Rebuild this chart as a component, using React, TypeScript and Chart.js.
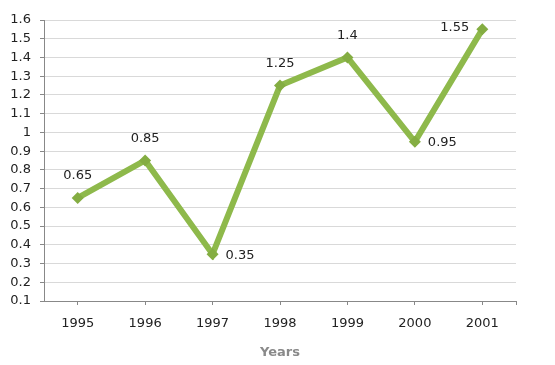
import React, { useEffect, useRef } from "react";
import { Chart, registerables } from "chart.js";

Chart.register(...registerables);

const years = ["1995", "1996", "1997", "1998", "1999", "2000", "2001"];
const values = [0.65, 0.85, 0.35, 1.25, 1.4, 0.95, 1.55];
const labelPlacement = ["top", "top", "right", "top", "top", "right", "left"];
const yMin = 0.1;
const yMax = 1.6;
const yStep = 0.1;
const xTitle = "Years";

const FONT = "'DejaVu Sans', Verdana, sans-serif";

const valueLabels = {
  id: "valueLabels",
  afterDatasetsDraw(chart: any) {
    const ctx = chart.ctx;
    const meta = chart.getDatasetMeta(0);
    ctx.save();
    ctx.font = `13px ${FONT}`;
    ctx.fillStyle = "#222";
    meta.data.forEach((pt: any, i: number) => {
      const txt = String(values[i]);
      const pos = labelPlacement[i];
      ctx.textBaseline = "middle";
      if (pos === "top") {
        ctx.textAlign = "center";
        ctx.fillText(txt, pt.x, pt.y - 22);
      } else if (pos === "right") {
        ctx.textAlign = "left";
        ctx.fillText(txt, pt.x + 13, pt.y + 1);
      } else {
        ctx.textAlign = "right";
        ctx.fillText(txt, pt.x - 13, pt.y - 2);
      }
    });
    ctx.restore();
  },
};

const edgeTick = {
  id: "edgeTick",
  afterDraw(chart: any) {
    const ctx = chart.ctx;
    const a = chart.chartArea;
    ctx.save();
    ctx.strokeStyle = "#888";
    ctx.lineWidth = 1;
    ctx.beginPath();
    ctx.moveTo(Math.round(a.right) + 0.5, a.bottom);
    ctx.lineTo(Math.round(a.right) + 0.5, a.bottom + 4);
    ctx.stroke();
    ctx.restore();
  },
};

export default function App() {
  const ref = useRef<HTMLCanvasElement | null>(null);
  useEffect(() => {
    document.body.style.margin = "0";
    const chart = new Chart(ref.current as HTMLCanvasElement, {
      type: "line",
      data: {
        labels: years,
        datasets: [
          {
            data: values,
            borderColor: "#8eb94b",
            backgroundColor: "#84ad42",
            borderWidth: 6,
            pointStyle: "rectRot",
            pointRadius: 6,
            pointBorderWidth: 0,
            pointBackgroundColor: "#84ad42",
            tension: 0,
          },
        ],
      },
      options: {
        animation: false,
        responsive: false,
        layout: { padding: { top: 20, right: 39, left: 0, bottom: 0 } },
        plugins: { legend: { display: false }, tooltip: { enabled: false } },
        scales: {
          x: {
            offset: true,
            grid: {
              offset: false,
              drawOnChartArea: false,
              drawTicks: true,
              tickLength: 4,
              tickColor: "#888",
            },
            border: { color: "#888", width: 1 },
            ticks: { font: { family: FONT, size: 13 }, color: "#222", padding: 11 },
            title: {
              display: true,
              text: xTitle,
              font: { family: FONT, size: 13, weight: "bold" },
              color: "#8a8a8a",
              padding: { top: 0, bottom: 5 },
            },
            afterFit(scale: any) {
              scale.height = 64;
            },
          },
          y: {
            min: yMin,
            max: yMax,
            ticks: {
              stepSize: yStep,
              font: { family: FONT, size: 13 },
              color: "#222",
              padding: 9,
              callback: (v: any) => String(Math.round(Number(v) * 10) / 10),
            },
            grid: { color: "#d9d9d9", tickColor: "#888", tickLength: 4 },
            border: { color: "#888", width: 1 },
            afterFit(scale: any) {
              scale.width = 44;
            },
          },
        },
      },
      plugins: [valueLabels, edgeTick],
    });
    return () => chart.destroy();
  }, []);
  return (
    <div style={{ position: "fixed", left: 0, top: 0, width: 555, height: 365, background: "#fff" }}>
      <canvas ref={ref} width={555} height={365} />
    </div>
  );
}
